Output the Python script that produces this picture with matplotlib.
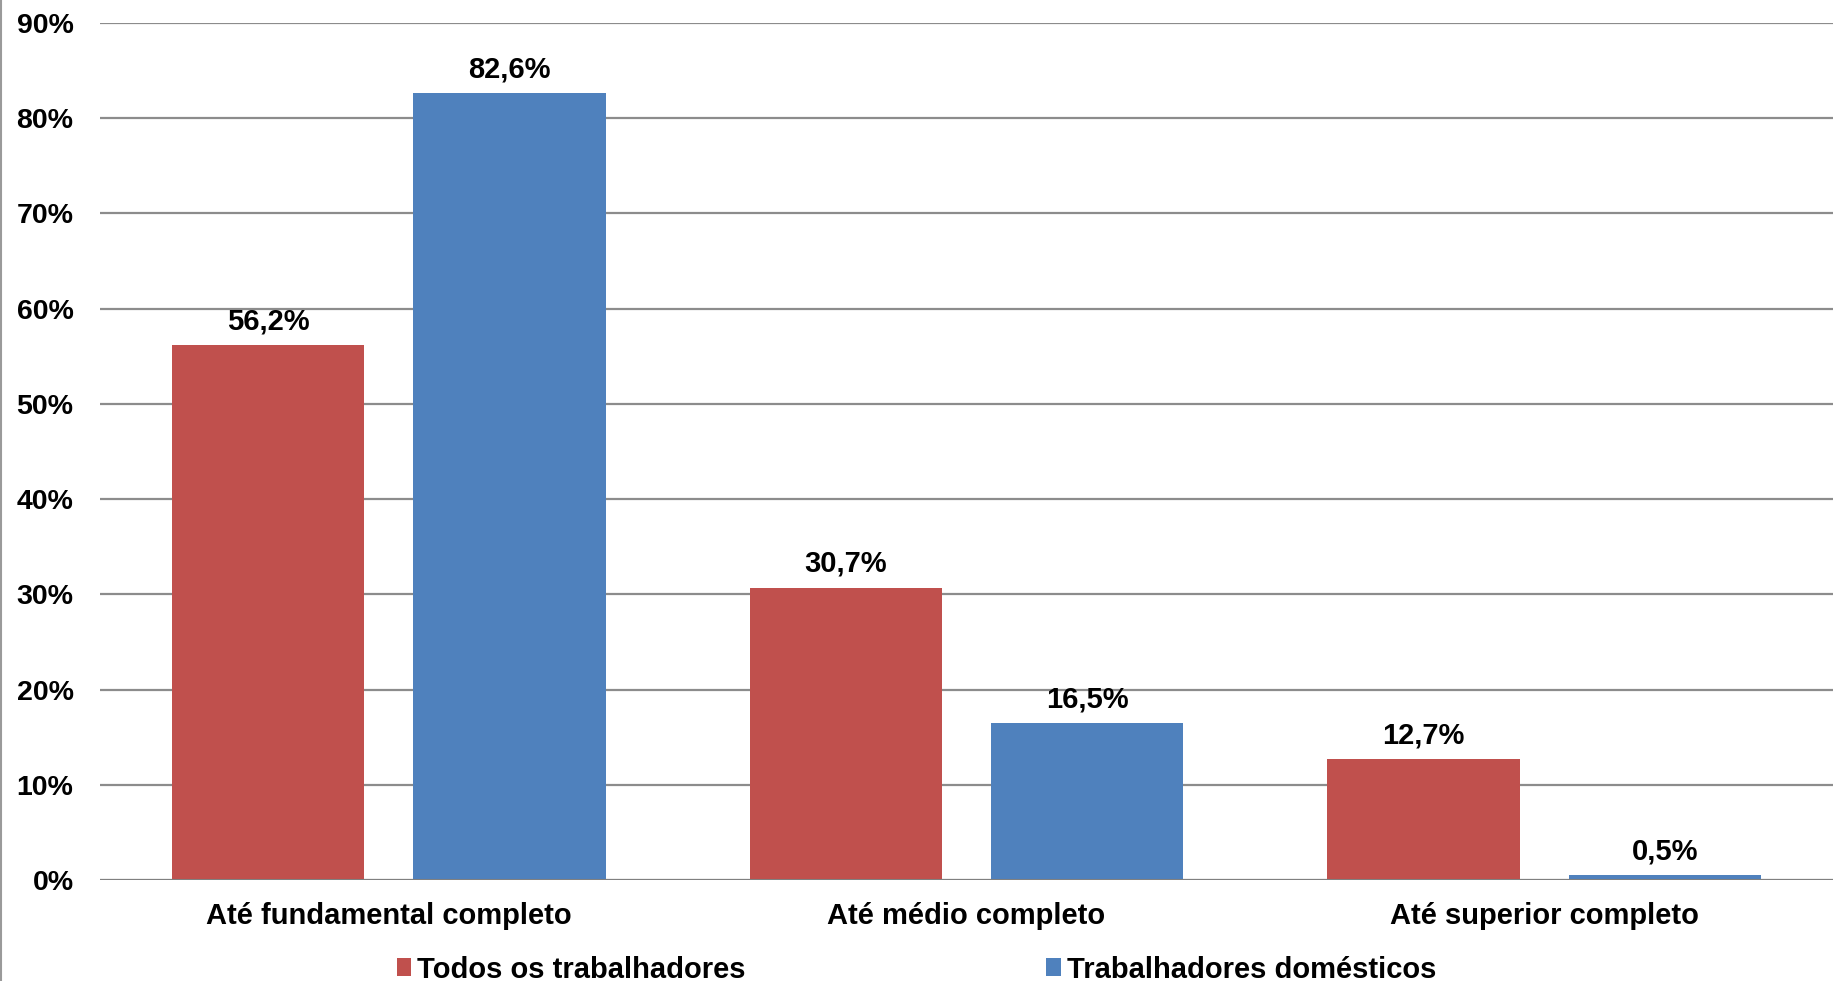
import matplotlib
matplotlib.use("Agg")
import matplotlib.pyplot as plt
from matplotlib.patches import Patch
from matplotlib.lines import Line2D
import numpy as np

categories = ["Até fundamental completo", "Até médio completo", "Até superior completo"]
series_names = ["Todos os trabalhadores", "Trabalhadores domésticos"]
todos = [56.2, 30.7, 12.7]
domesticos = [82.6, 16.5, 0.5]
colors = ["#C0504D", "#4F81BD"]

plt.rcParams["font.family"] = ["Liberation Sans", "DejaVu Sans"]
W, H = 1835, 981
fig = plt.figure(figsize=(W / 100, H / 100), dpi=100)
ax = fig.add_axes([100 / W, 1 - 880 / H, (1833 - 100) / W, (880 - 23) / H])

x = np.arange(len(categories))
bw = 0.333
off = 0.209
for vals, sign, c in [(todos, -1, colors[0]), (domesticos, 1, colors[1])]:
    bars = ax.bar(x + sign * off, vals, width=bw, color=c, zorder=3)
    for b, v in zip(bars, vals):
        ax.annotate(f"{v:.1f}%".replace(".", ","), (b.get_x() + b.get_width() / 2, v),
                    xytext=(0, 7), textcoords="offset points", ha="center", va="bottom",
                    fontsize=21, fontweight="bold", zorder=4)

ax.set_xlim(-0.5, 2.5)
ax.set_ylim(0, 90)
ax.set_yticks(np.arange(0, 91, 10))
ax.set_yticklabels([f"{t}%" for t in range(0, 91, 10)], fontsize=20.5, fontweight="bold")
ax.set_xticks(x)
ax.set_xticklabels(categories, fontsize=21, fontweight="bold")
ax.tick_params(axis="both", length=0)
ax.tick_params(axis="y", pad=19)
ax.tick_params(axis="x", pad=16)
ax.yaxis.grid(True, color="#8C8C8C", linewidth=1.6, zorder=0)
for s in ax.spines.values():
    s.set_visible(False)
ax.axhline(0, color="#808080", linewidth=2.2, zorder=5)

# left border of chart area
fig.add_artist(Line2D([1 / W, 1 / W], [0, 1], transform=fig.transFigure, color="#9A9A9A", linewidth=1.5))

handles = [Patch(facecolor=c, edgecolor="none") for c in colors]
leg = fig.legend(handles, series_names, loc="center", bbox_to_anchor=(0.4994, 1 - 969.5 / H), ncol=2,
                 frameon=False, prop=dict(family=["Liberation Sans", "DejaVu Sans"], weight="bold", size=21),
                 handlelength=0.5, handleheight=0.6, handletextpad=0.2, columnspacing=10.3)

fig.savefig("out.png", dpi=100, facecolor="white")
